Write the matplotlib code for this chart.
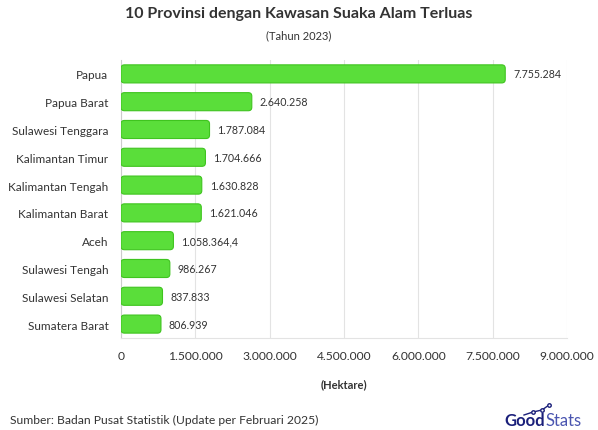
import matplotlib.pyplot as plt
from matplotlib.patches import FancyBboxPatch
from matplotlib.ticker import FuncFormatter

# Data (Tahun 2023, hektare)
provinsi = ['Papua', 'Papua Barat', 'Sulawesi Tenggara', 'Kalimantan Timur',
            'Kalimantan Tengah', 'Kalimantan Barat', 'Aceh', 'Sulawesi Tengah',
            'Sulawesi Selatan', 'Sumatera Barat']
luas = [7755284, 2640258, 1787084, 1704666, 1630828, 1621046, 1058364.4,
        986267, 837833, 806939]
label_luas = ['7.755.284', '2.640.258', '1.787.084', '1.704.666', '1.630.828',
              '1.621.046', '1.058.364,4', '986.267', '837.833', '806.939']
xticks = [0, 1500000, 3000000, 4500000, 6000000, 7500000, 9000000]

plt.rcParams['font.family'] = ['Lato', 'DejaVu Sans']
txt = '#333333'

fig = plt.figure(figsize=(5.98, 4.31), dpi=100)
ax = fig.add_axes([0.2023, 0.2135, 0.7457, 0.645])

ax.set_xlim(0, 9000000)
ax.set_ylim(len(provinsi) - 0.5, -0.5)

# rounded bars
bar_h = 0.65
asp = (1 / 27.8) / (9000000 / 446)
for i, v in enumerate(luas):
    p = FancyBboxPatch((0, i - bar_h / 2), v, bar_h,
                       boxstyle='round,pad=0,rounding_size=70000',
                       mutation_aspect=asp, facecolor='#5ade3a',
                       edgecolor='#3fc41f', linewidth=0.8, zorder=3)
    ax.add_patch(p)
    ax.text(v + 160000, i, label_luas[i], va='center', ha='left',
            fontsize=7.7, color=txt)

ax.set_yticks(range(len(provinsi)))
ax.set_yticklabels(provinsi, fontsize=8.5, color=txt)
ax.set_xticks(xticks)
ax.xaxis.set_major_formatter(FuncFormatter(lambda x, p: f'{int(x):,}'.replace(',', '.')))
ax.tick_params(axis='x', labelsize=8.7, colors=txt, length=0, pad=9)
ax.tick_params(axis='y', length=0, pad=9)

ax.grid(axis='x', color='#e3e3e3', linewidth=0.8, zorder=0)
for s in ['top', 'right']:
    ax.spines[s].set_visible(False)
ax.spines['left'].set_color('#cccccc')
ax.spines['bottom'].set_color('#e3e3e3')

ax.set_xlabel('(Hektare)', fontsize=8, fontweight='bold', color=txt, labelpad=12)

fig.text(0.5, 1 - 14 / 431, '10 Provinsi dengan Kawasan Suaka Alam Terluas',
         ha='center', va='center', fontsize=11.5, fontweight='bold', color=txt)
fig.text(0.5, 1 - 36 / 431, '(Tahun 2023)', ha='center', va='center',
         fontsize=8, color=txt)
fig.text(10 / 598, 1 - 420 / 431,
         'Sumber: Badan Pusat Statistik (Update per Februari 2025)',
         ha='left', va='center', fontsize=8.7, color=txt)

# logo
fig.text(545 / 598, 1 - 421 / 431, 'Good', ha='right', va='center',
         fontsize=12, fontweight='bold', color='#1a1f7a')
fig.text(545 / 598, 1 - 421 / 431, 'Stats', ha='left', va='center',
         fontsize=12, color='#4a55b0')
logo_x = [524, 533, 542, 549]
logo_y = [416, 413, 411, 406]
fig.add_artist(plt.Line2D([x / 598 for x in logo_x], [1 - y / 431 for y in logo_y],
                          color='#1a1f7a', linewidth=1, marker='o', markersize=2.5,
                          markerfacecolor='white', markevery=[1, 2, 3]))

fig.savefig('out.png', dpi=100)
